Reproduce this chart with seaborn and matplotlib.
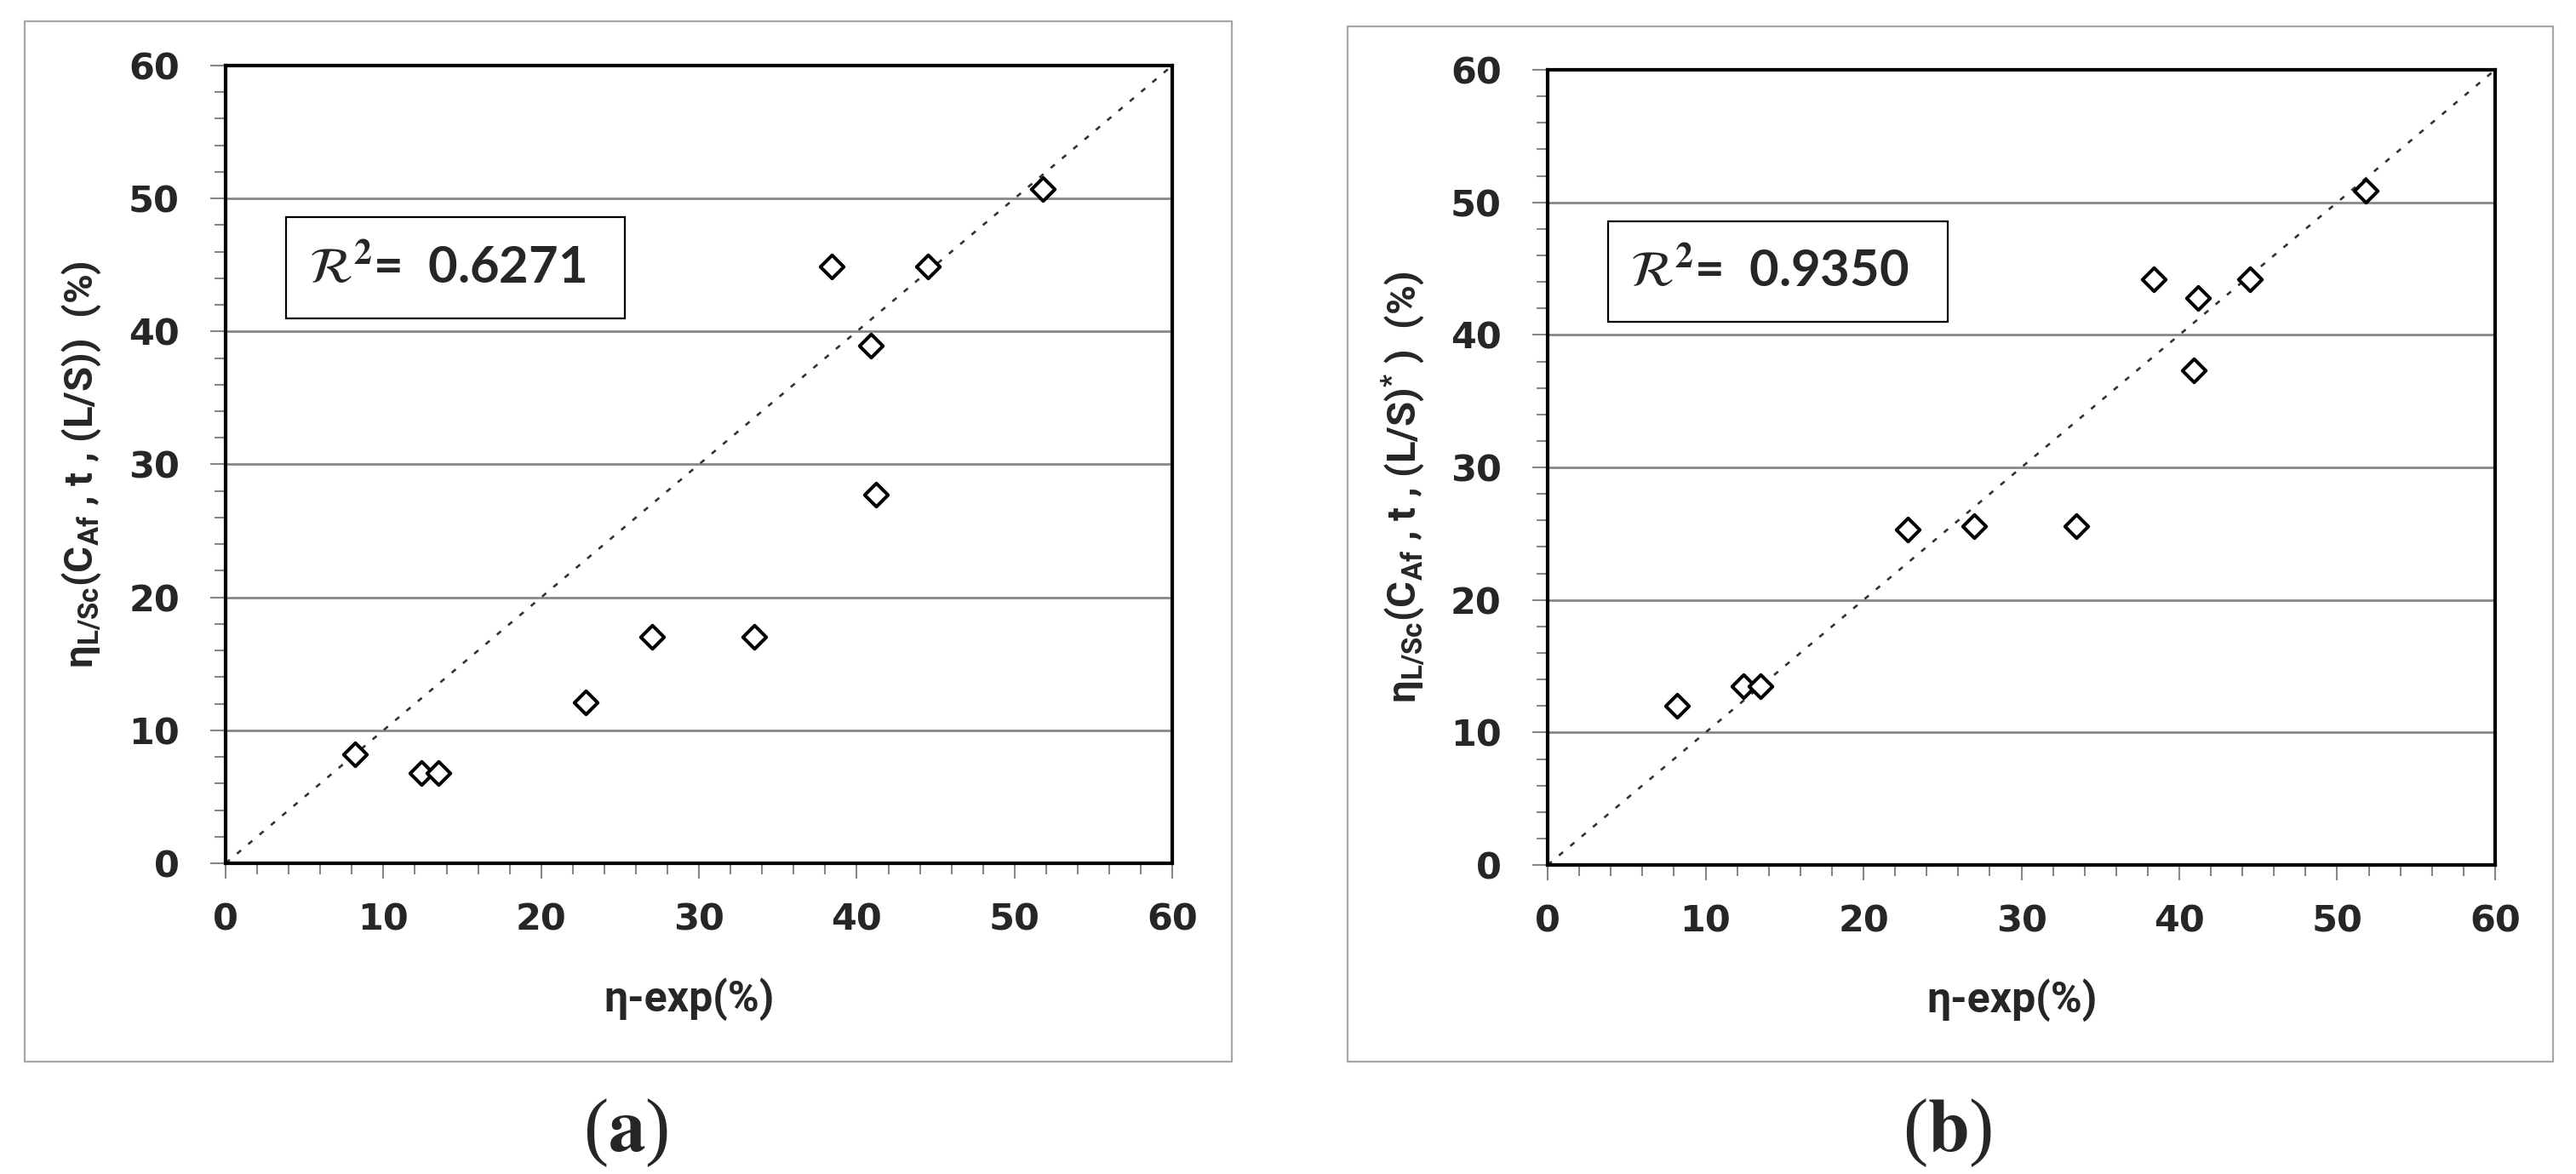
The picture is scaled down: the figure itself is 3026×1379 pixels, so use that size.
import matplotlib
matplotlib.use('Agg')
import matplotlib.pyplot as plt
import seaborn as sns
import pandas as pd
from matplotlib.patches import Rectangle
from matplotlib.ticker import MultipleLocator

# data
eta_exp = [8.2, 12.4, 13.5, 22.8, 27.0, 33.5, 38.4, 40.9, 41.2, 44.5, 51.8]
eta_calc_a = [8.2, 6.8, 6.8, 12.1, 17.0, 17.0, 44.9, 38.9, 27.7, 44.9, 50.7]
eta_calc_b = [12.0, 13.5, 13.5, 25.3, 25.6, 25.6, 44.2, 37.3, 42.8, 44.2, 50.9]
r2_a = '0.6271'
r2_b = '0.9350'
ylabel_a = 'η$_{L/Sc}$(C$_{Af}$ , t , (L/S))  (%)'
ylabel_b = 'η$_{L/Sc}$(C$_{Af}$ , t , (L/S)$^{*}$ )  (%)'
xlabel = 'η-exp(%)'

sns.set_style('ticks')
plt.rcParams['font.family'] = ['Roboto', 'DejaVu Sans']
plt.rcParams['mathtext.fontset'] = 'custom'
plt.rcParams['mathtext.bf'] = 'Roboto:bold'
plt.rcParams['mathtext.rm'] = 'Roboto:bold'
plt.rcParams['mathtext.default'] = 'bf'
plt.rcParams['lines.scale_dashes'] = False

fig = plt.figure(figsize=(30.26, 13.79), dpi=100)

# outer grey frames of the two panels
fig.add_artist(Rectangle((0.0096, 0.0957), 0.4686, 0.8862, transform=fig.transFigure,
                         fill=False, edgecolor='#a6a6a6', lw=1.6))
fig.add_artist(Rectangle((0.5231, 0.0957), 0.4680, 0.8818, transform=fig.transFigure,
                         fill=False, edgecolor='#a6a6a6', lw=1.6))

ax_a = fig.add_axes([0.0876, 0.2647, 0.3675, 0.6795])
ax_b = fig.add_axes([0.6008, 0.2632, 0.3678, 0.6773])


def draw(ax, calc, ylab, r2, ylab_y):
    df = pd.DataFrame({'exp': eta_exp, 'calc': calc})
    ax.set_xlim(0, 60)
    ax.set_ylim(0, 60)
    ax.axline((0, 0), slope=1, color='#333333', lw=1.9, linestyle=(0, (4.5, 8.0)), zorder=2)
    sns.scatterplot(data=df, x='exp', y='calc', marker='D', s=195, facecolor='white',
                    edgecolor='black', linewidth=2.9, ax=ax, zorder=3)
    ax.xaxis.set_major_locator(MultipleLocator(10))
    ax.yaxis.set_major_locator(MultipleLocator(10))
    ax.xaxis.set_minor_locator(MultipleLocator(2))
    ax.yaxis.set_minor_locator(MultipleLocator(2))
    ax.yaxis.grid(True, which='major', color='#878787', lw=2.0)
    ax.xaxis.grid(False)
    ax.set_axisbelow(True)
    for sp in ax.spines.values():
        sp.set_visible(True)
        sp.set_color('black')
        sp.set_linewidth(3)
    ax.tick_params(which='major', direction='out', length=13, width=1.5, color='#868686',
                   labelsize=31, bottom=True, left=True)
    ax.tick_params(which='minor', direction='out', length=9.4, width=1.5, color='#868686',
                   bottom=True, left=True)
    ax.tick_params(axis='x', pad=20)
    ax.tick_params(axis='y', pad=26)
    for lab in ax.get_xticklabels() + ax.get_yticklabels():
        lab.set_fontfamily('DejaVu Sans')
        lab.set_fontweight('bold')

    ax.set_xlabel(xlabel, fontsize=36, fontweight='bold')
    ax.xaxis.set_label_coords(0.49, -0.170)
    ax.xaxis.label.set_va('center')
    ax.set_ylabel(ylab, fontsize=34, fontweight='bold')
    ax.yaxis.set_label_coords(-0.152, ylab_y)
    ax.yaxis.label.set_va('center')

    ax.add_patch(Rectangle((0.064, 0.683), 0.358, 0.127, transform=ax.transAxes,
                           facecolor='white', edgecolor='black', lw=1.6, zorder=4))
    ax.text(0.234, 0.745, r'$\mathcal{R}^{2}$=  ' + r2, transform=ax.transAxes,
            math_fontfamily='stix', family='Lato', fontweight='bold', fontsize=43,
            ha='center', va='center', zorder=5)


draw(ax_a, eta_calc_a, ylabel_a, r2_a, 0.5)
draw(ax_b, eta_calc_b, ylabel_b, r2_b, 0.475)

fig.text(0.2429, 0.0355, r'($\mathbf{a}$)', family='Liberation Serif', math_fontfamily='stix',
         fontsize=63, ha='center', va='center')
fig.text(0.7561, 0.0355, r'($\mathbf{b}$)', family='Liberation Serif', math_fontfamily='stix',
         fontsize=63, ha='center', va='center')

fig.savefig('out.png', dpi=100)
